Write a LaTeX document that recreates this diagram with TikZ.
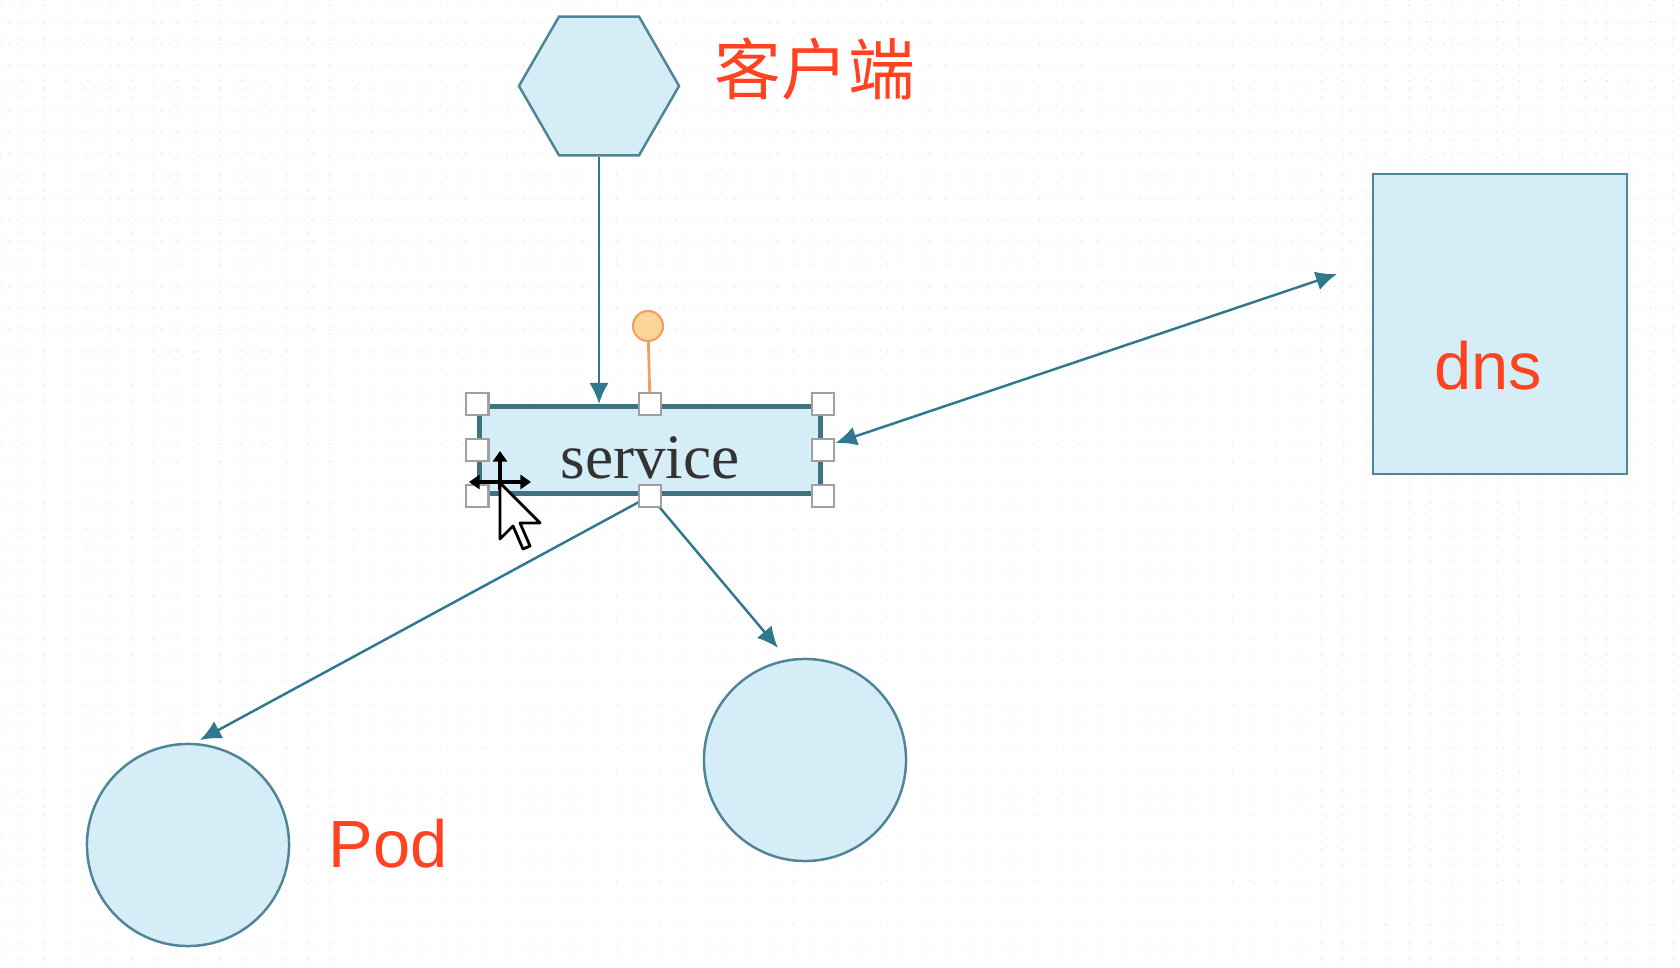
\documentclass[tikz,border=0pt]{standalone}
\usepackage{fontspec}
\setmainfont{Liberation Serif}
\newfontfamily\labelfont{Liberation Sans}
\newfontfamily\cjkfont{Noto Sans CJK SC}
\usetikzlibrary{arrows.meta,shapes.geometric}
\definecolor{podfill}{HTML}{D4EDF7}
\definecolor{podline}{HTML}{4E8597}
\definecolor{linkblue}{HTML}{2F7890}
\definecolor{notered}{HTML}{FF4320}
\definecolor{gripgray}{HTML}{A0A0A0}
\definecolor{pinline}{HTML}{F0A060}
\definecolor{pinfill}{HTML}{FBD49A}
\definecolor{gridgray}{HTML}{EEF2F5}
\tikzset{
  shapebox/.style={draw=podline,fill=podfill,line width=0.7pt},
  link/.style={draw=linkblue,line width=0.7pt,-{Latex[length=6pt,width=5.5pt]}},
  note/.style={text=notered,font=\labelfont\fontsize{19}{22}\selectfont},
  grip/.style={draw=gripgray,fill=white,line width=0.6pt,minimum size=0.22cm,inner sep=0pt},
}
\begin{document}
\begin{tikzpicture}[x=0.01cm,y=-0.01cm]
\useasboundingbox (0,0) rectangle (1680,968);
\fill[white] (0,0) rectangle (1680,968);
\draw[gridgray,dotted,line width=0.4pt] (0,0) grid[step=0.22cm] (1680,968);

\node[shapebox,regular polygon,regular polygon sides=6,minimum size=1.6cm] (client) at (599,86) {};
\node[note,font=\cjkfont\fontsize{19}{22}\selectfont] (clientlabel) at (815,69) {客户端};

\node[shapebox,draw=podline!85!black,line width=1.4pt,minimum width=3.4cm,minimum height=0.87cm,
  text=black!80,font=\fontsize{18}{20}\selectfont,text height=0.56cm,text depth=0pt] (service) at (650,450) {service};

\node[shapebox,minimum width=2.54cm,minimum height=3cm] (dns) at (1500,324) {};
\node[note] (dnslabel) at (1488,366) {dns};

\node[shapebox,circle,minimum size=2.02cm] (pod1) at (188,845) {};
\node[shapebox,circle,minimum size=2.02cm] (pod2) at (805,760) {};
\node[note] (podlabel) at (388,844) {Pod};

\coordinate (dnstip) at (1337,274);
\coordinate (pod1tip) at (200,740);
\coordinate (pod2tip) at (778,648);

\draw[link] (client.south) -- (client.south |- service.north);
\draw[link,{Latex[length=6pt,width=5.5pt]}-{Latex[length=6pt,width=5.5pt]}]
  ([shift={(13,-7)}]service.east) -- (dnstip);
\draw[link] (service.south) -- (pod1tip);
\draw[link] (service.south) -- (pod2tip);

% selection handles
\node[circle,draw=pinline,fill=pinfill,line width=0.6pt,minimum size=0.3cm,inner sep=0pt] (pin) at (648,326) {};
\draw[pinline,line width=0.8pt] (pin) -- (service.north);
\foreach \a in {north west,north,north east,west,east,south west,south,south east}
  \node[grip] (grip-\a) at (service.\a) {};

% mouse pointer
\draw[line width=1pt,{Triangle[length=3pt,width=4pt]}-{Triangle[length=3pt,width=4pt]}] (469,482) -- (531,482);
\draw[line width=1pt,-{Triangle[length=3pt,width=4pt]}] (500,490) -- (500,451);
\draw[fill=white,line width=0.8pt,line join=round]
  (500,483) -- (500,539) -- (513,526) -- (523,549) -- (530,546) -- (520,523) -- (540,523) -- cycle;
\end{tikzpicture}
\end{document}
